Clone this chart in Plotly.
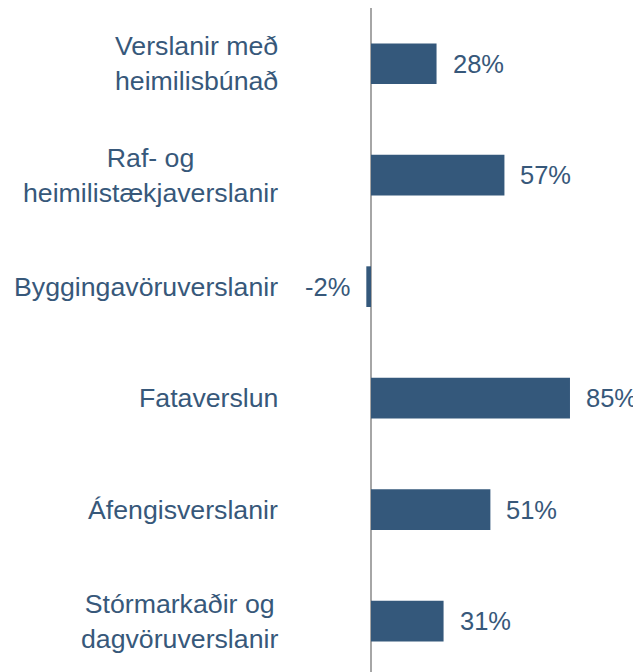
import plotly.graph_objects as go

categories = [
    "Verslanir með<br>heimilisbúnað",
    "Raf- og<br>heimilistækjaverslanir",
    "Byggingavöruverslanir",
    "Fataverslun",
    "Áfengisverslanir",
    "Stórmarkaðir og<br>dagvöruverslanir",
]
values = [28, 57, -2, 85, 51, 31]

bar_color = "#34587b"
text_color = "#37587a"
font_family = "Liberation Sans, Arial, sans-serif"

fig = go.Figure(
    go.Bar(
        x=values,
        y=categories,
        orientation="h",
        marker=dict(color=bar_color, line=dict(width=0)),
        width=0.365,
        hoverinfo="skip",
    )
)

annotations = []
for cat, v in zip(categories, values):
    # value label
    annotations.append(
        dict(
            x=v,
            y=cat,
            xref="x",
            yref="y",
            text=f"{v}%",
            showarrow=False,
            xanchor="left" if v >= 0 else "right",
            xshift=14 if v >= 0 else -14,
            font=dict(size=25.5, color=text_color, family=font_family),
        )
    )
    # category label (centre-aligned lines, right-anchored)
    annotations.append(
        dict(
            x=0,
            y=cat,
            xref="paper",
            yref="y",
            text=cat,
            showarrow=False,
            xanchor="right",
            align="center",
            xshift=-5,
            font=dict(size=26.7, color=text_color, family=font_family),
        )
    )

fig.update_layout(
    width=633,
    height=664,
    margin=dict(l=277, r=0, t=0, b=0),
    paper_bgcolor="white",
    plot_bgcolor="white",
    showlegend=False,
    annotations=annotations,
    font=dict(family=font_family, size=26, color=text_color),
)
fig.update_xaxes(
    range=[-36.74, 115.34],
    showgrid=False,
    showticklabels=False,
    zeroline=True,
    zerolinecolor="#a6a6a6",
    zerolinewidth=1.5,
    showline=False,
    ticks="",
    fixedrange=True,
)
fig.update_yaxes(
    categoryorder="array",
    categoryarray=list(reversed(categories)),
    range=[-0.457, 5.5],
    showgrid=False,
    showline=False,
    showticklabels=False,
    ticks="",
    fixedrange=True,
)

fig.write_html("out.html")
